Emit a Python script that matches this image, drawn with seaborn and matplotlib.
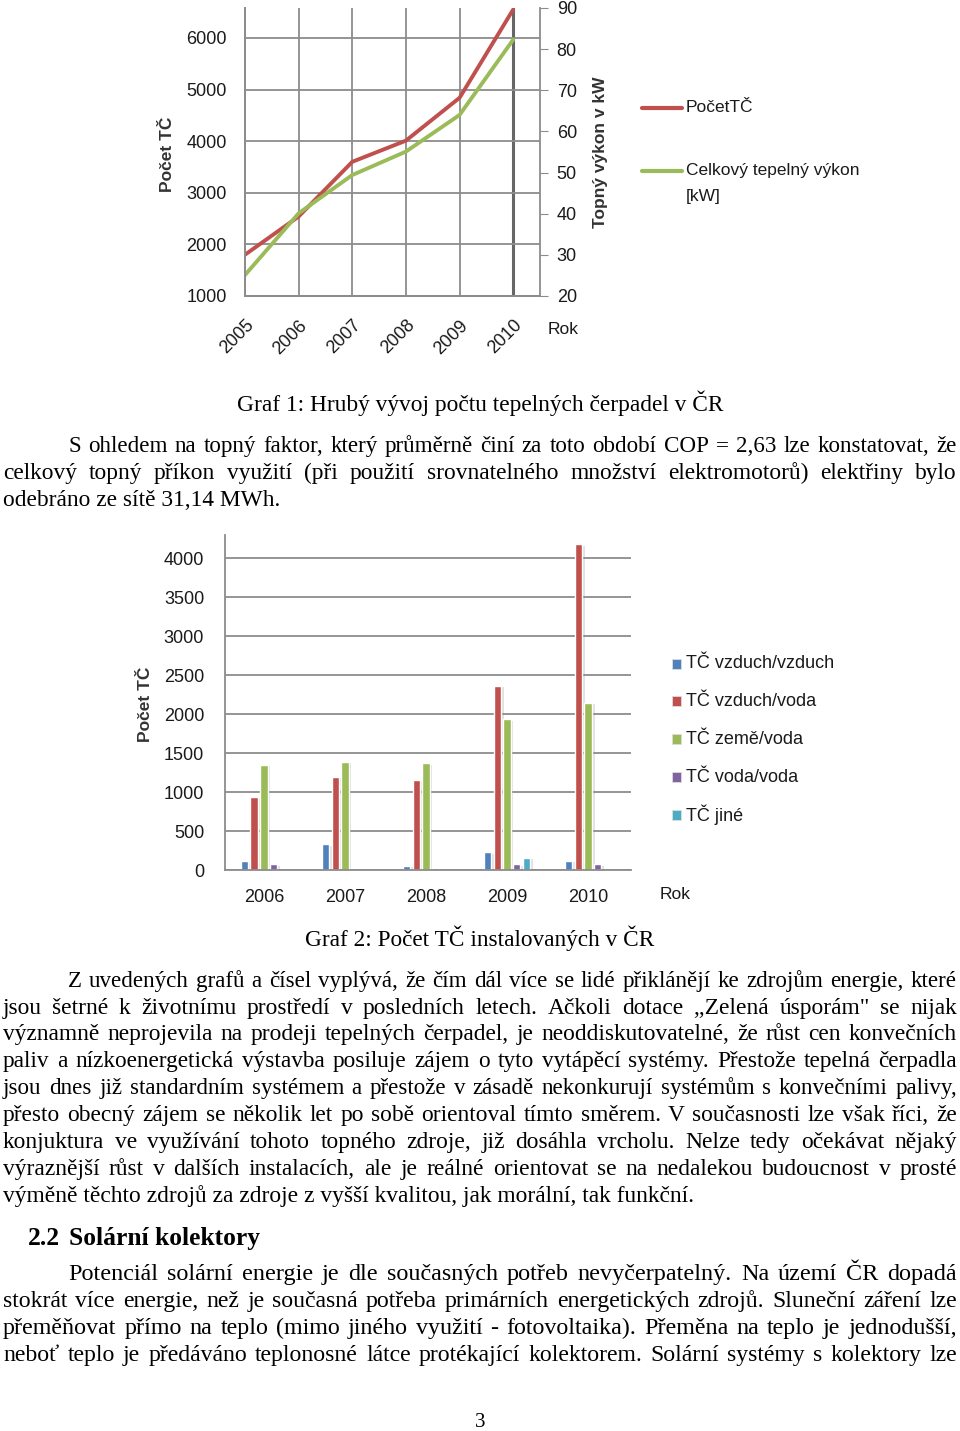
import numpy as np
import pandas as pd
import matplotlib
matplotlib.use("Agg")
import matplotlib.pyplot as plt
import seaborn as sns
from matplotlib.lines import Line2D
from matplotlib.patches import Rectangle
import matplotlib.patheffects as pe

# ---------------- data ----------------
years_line = [2005, 2006, 2007, 2008, 2009, 2010]
pocet_tc = [1800, 2540, 3600, 4010, 4840, 6550]
vykon_kw = [25.1, 40.1, 49.4, 55.1, 64.0, 82.3]
left_ticks = [1000, 2000, 3000, 4000, 5000, 6000]
right_ticks = [20, 30, 40, 50, 60, 70, 80, 90]

years_bar = ["2006", "2007", "2008", "2009", "2010"]
bar_types = ["TČ vzduch/vzduch", "TČ vzduch/voda", "TČ země/voda", "TČ voda/voda", "TČ jiné"]
vzduch_vzduch = [115, 330, 50, 225, 115]
vzduch_voda = [940, 1200, 1155, 2365, 4180]
zeme_voda = [1350, 1390, 1370, 1935, 2150]
voda_voda = [75, 30, 30, 75, 75]
jine = [0, 0, 0, 160, 0]
bar_ticks = [0, 500, 1000, 1500, 2000, 2500, 3000, 3500, 4000]

caption1 = "Graf 1: Hrubý vývoj počtu tepelných čerpadel v ČR"
caption2 = "Graf 2: Počet TČ instalovaných v ČR"
para1 = [
    "S ohledem na topný faktor, který průměrně činí za toto období COP = 2,63 lze konstatovat, že",
    "celkový topný příkon využití (při použití srovnatelného množství elektromotorů) elektřiny bylo",
    "odebráno ze sítě 31,14 MWh.",
]
para2 = [
    "Z uvedených grafů a čísel vyplývá, že čím dál více se lidé přiklánějí ke zdrojům energie, které",
    "jsou šetrné k životnímu prostředí v posledních letech. Ačkoli dotace ,,Zelená úsporám\" se nijak",
    "významně neprojevila na prodeji tepelných čerpadel, je neoddiskutovatelné, že růst cen konvečních",
    "paliv a nízkoenergetická výstavba posiluje zájem o tyto vytápěcí systémy. Přestože tepelná čerpadla",
    "jsou dnes již standardním systémem a přestože v zásadě nekonkurují systémům s konvečními palivy,",
    "přesto obecný zájem se několik let po sobě orientoval tímto směrem. V současnosti lze však říci, že",
    "konjuktura ve využívání tohoto topného zdroje, již dosáhla vrcholu. Nelze tedy očekávat nějaký",
    "výraznější růst v dalších instalacích, ale je reálné orientovat se na nedalekou budoucnost v prosté",
    "výměně těchto zdrojů za zdroje z vyšší kvalitou, jak morální, tak funkční.",
]
heading_num = "2.2"
heading_txt = "Solární kolektory"
para3 = [
    "Potenciál solární energie je dle současných potřeb nevyčerpatelný. Na území ČR dopadá",
    "stokrát více energie, než je současná potřeba primárních energetických zdrojů. Sluneční záření lze",
    "přeměňovat přímo na teplo (mimo jiného využití - fotovoltaika). Přeměna na teplo je jednodušší,",
    "neboť teplo je předáváno teplonosné látce protékající kolektorem. Solární systémy s kolektory lze",
]

RED = "#C0504D"
GREEN = "#9BBB59"
bar_colors = ["#4F81BD", "#C0504D", "#9BBB59", "#8064A2", "#4BACC6"]
GRID = "#8c8c8c"
TXT = "#1a1a1a"

sns.set_style("white")
plt.rcParams["font.family"] = ["Liberation Sans", "DejaVu Sans"]

W, H = 960, 1431
fig = plt.figure(figsize=(9.6, 14.31), dpi=100)


def fx(x):
    return x / W


def fy(y):
    return 1 - y / H


def axrect(l, t, r, b):
    return [l / W, 1 - b / H, (r - l) / W, (b - t) / H]


# ---------------- chart 1: lines ----------------
ax1 = fig.add_axes(axrect(245, 8, 540, 296))
df1 = pd.DataFrame({"Rok": years_line, "Počet": pocet_tc, "Výkon": vykon_kw})
sns.lineplot(data=df1, x="Rok", y="Počet", ax=ax1, color=RED, lw=2.8)
ax1b = ax1.twinx()
sns.lineplot(data=df1, x="Rok", y="Výkon", ax=ax1b, color=GREEN, lw=2.8)
ax1.set_xlim(2005, 2010.5)
ax1.set_ylim(1000, 6580)
ax1b.set_ylim(20, 90)
ax1.set_yticks(left_ticks)
ax1.set_yticklabels([str(v) for v in left_ticks])
ax1b.set_yticks(right_ticks)
ax1b.set_yticklabels([str(v) for v in right_ticks])
ax1.set_xticks(years_line)
ax1.set_xticklabels([str(y) for y in years_line], rotation=45, ha="right",
                    va="top", rotation_mode="anchor")
ax1.grid(True, color=GRID, lw=1.3)
ax1b.grid(False)
ax1.set_axisbelow(True)
xg = ax1.get_xgridlines()
xg[-1].set_color("#666666")
xg[-1].set_linewidth(2.2)
for a in (ax1, ax1b):
    a.set_xlabel("")
    a.set_ylabel("")
    for s in a.spines.values():
        s.set_color(GRID)
        s.set_linewidth(1.3)
    a.spines["top"].set_visible(False)
ax1.spines["right"].set_visible(False)
ax1.tick_params(axis="y", length=0, pad=13, labelsize=13, labelcolor=TXT)
ax1.tick_params(axis="x", length=5, color=GRID, pad=10, labelsize=13, labelcolor=TXT)
ax1b.tick_params(axis="y", length=6, color=GRID, direction="out", pad=6,
                 labelsize=13, labelcolor=TXT)
fig.text(fx(167), fy(154), "Počet TČ", rotation=90, ha="center", va="center",
         fontsize=12.5, weight="bold", color="#333333")
fig.text(fx(600), fy(152), "Topný výkon v kW", rotation=90, ha="center", va="center",
         fontsize=12.5, weight="bold", color="#333333")
fig.text(fx(563), fy(329), "Rok", ha="center", va="center", fontsize=12.5, color=TXT)

# legend 1
fig.add_artist(Line2D([fx(642), fx(682)], [fy(108), fy(108)], transform=fig.transFigure,
                      color=RED, lw=3))
fig.text(fx(686), fy(108), "PočetTČ", ha="left", va="center", fontsize=12.5, color=TXT)
fig.add_artist(Line2D([fx(642), fx(682)], [fy(171), fy(171)], transform=fig.transFigure,
                      color=GREEN, lw=3))
fig.text(fx(686), fy(171), "Celkový tepelný výkon", ha="left", va="center",
         fontsize=12.5, color=TXT)
fig.text(fx(686), fy(196), "[kW]", ha="left", va="center", fontsize=12.5, color=TXT)

# ---------------- chart 2: bars ----------------
ax2 = fig.add_axes(axrect(225, 535, 631, 870))
series = [vzduch_vzduch, vzduch_voda, zeme_voda, voda_voda, jine]
rows = []
for i, yr in enumerate(years_bar):
    for t, vals in zip(bar_types, series):
        rows.append({"Rok": yr, "Typ": t, "Počet": vals[i]})
df2 = pd.DataFrame(rows)
sns.barplot(data=df2, x="Rok", y="Počet", hue="Typ", hue_order=bar_types,
            order=years_bar, palette=bar_colors, width=0.6, gap=0.24,
            saturation=1, errorbar=None, legend=False, ax=ax2)
for p in ax2.patches:
    p.set_path_effects([pe.SimplePatchShadow(offset=(2, -1), alpha=0.25,
                                             shadow_rgbFace="#888888"), pe.Normal()])
ax2.set_ylim(0, 4300)
ax2.set_xlim(-0.48, 4.53)
ax2.set_yticks(bar_ticks)
ax2.set_yticklabels([str(v) for v in bar_ticks])
ax2.yaxis.grid(True, color=GRID, lw=1.3)
ax2.xaxis.grid(False)
ax2.set_axisbelow(True)
ax2.set_xlabel("")
ax2.set_ylabel("")
for s in ax2.spines.values():
    s.set_color(GRID)
    s.set_linewidth(1.3)
ax2.spines["top"].set_visible(False)
ax2.spines["right"].set_visible(False)
ax2.tick_params(axis="y", length=0, pad=15, labelsize=13, labelcolor=TXT)
ax2.tick_params(axis="x", length=0, pad=14, labelsize=13, labelcolor=TXT)
fig.text(fx(146), fy(704), "Počet TČ", rotation=90, ha="center", va="center",
         fontsize=12.5, weight="bold", color="#333333")
fig.text(fx(675), fy(895), "Rok", ha="center", va="center", fontsize=12.5, color=TXT)

# legend 2
leg_y = [664, 701, 739, 777, 815]
for c, lab, yy in zip(bar_colors, bar_types, leg_y):
    fig.add_artist(Rectangle((fx(672), fy(yy + 5)), 9 / W, 10 / H, transform=fig.transFigure,
                             facecolor=c, edgecolor="#dddddd", lw=0.6))
    fig.text(fx(686), fy(yy), lab, ha="left", va="center", fontsize=13, color=TXT)

# ---------------- document text ----------------
SERIF = "Liberation Serif"
renderer = fig.canvas.get_renderer()


def tw(s, size, weight="normal"):
    t = fig.text(0, 0, s, fontsize=size, family=SERIF, weight=weight)
    w = t.get_window_extent(renderer).width
    t.remove()
    return w


def fit_size(s, width, weight="normal"):
    return 10 * width / tw(s, 10, weight)


def centered(s, y, width):
    size = fit_size(s, width)
    fig.text(0.5, fy(y + 8), s, fontsize=size, family=SERIF, ha="center",
             va="baseline", color="black")


def paragraph(lines, centers, max_size, justify_last=False, x_left=3, x_right=957,
              indent=68):
    n = len(lines)
    for i, (ln, yc) in enumerate(zip(lines, centers)):
        x0 = indent if i == 0 else x_left
        yb = fy(yc + 8)
        if i == n - 1 and not justify_last:
            fig.text(fx(x0), yb, ln, fontsize=max_size, family=SERIF, ha="left",
                     va="baseline", color="black")
            continue
        size = min(max_size, fit_size(ln, x_right - x0) * 0.975)
        words = ln.split(" ")
        widths = [tw(w, size) for w in words]
        gap = (x_right - x0 - sum(widths)) / (len(words) - 1)
        x = x0
        for w, wd in zip(words, widths):
            fig.text(fx(x), yb, w, fontsize=size, family=SERIF, ha="left",
                     va="baseline", color="black")
            x += wd + gap


centered(caption1, 403, 485)
s1 = min(fit_size(para1[0], 957 - 68), fit_size(para1[1], 954)) * 0.99
paragraph(para1, [444, 471, 498], s1)
centered(caption2, 938, 349)
s2 = fit_size("Z uvedených grafů a čísel vyplývá, že čím", 399)
paragraph(para2, [979, 1006, 1032, 1059, 1086, 1113, 1140, 1167, 1194], s2)

hs = fit_size(heading_txt, 191, "bold")
fig.text(fx(28), fy(1245), heading_num, fontsize=hs, family=SERIF, weight="bold",
         ha="left", va="baseline", color="black")
fig.text(fx(69), fy(1245), heading_txt, fontsize=hs, family=SERIF, weight="bold",
         ha="left", va="baseline", color="black")
s3 = min(fit_size(l, 954) for l in para3[1:]) * 0.99
paragraph(para3, [1272, 1299, 1326, 1353], s3, justify_last=True)
fig.text(0.5, fy(1427), "3", fontsize=15, family=SERIF, ha="center", va="baseline",
         color="black")

fig.savefig("out.png", dpi=100)
